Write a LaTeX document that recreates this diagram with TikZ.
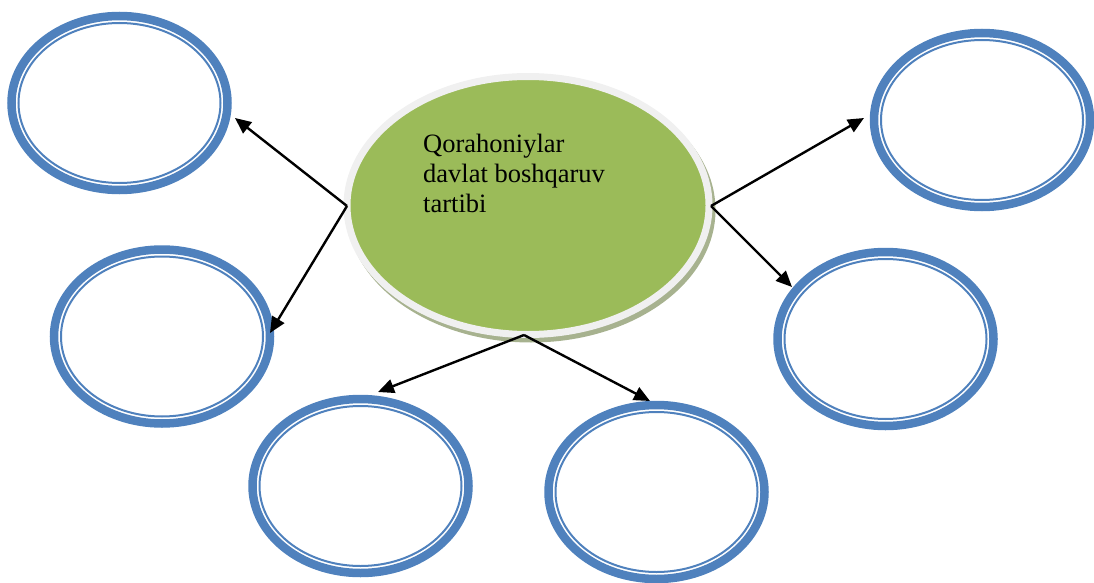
\documentclass[tikz,border=0pt]{standalone}
\usepackage{fontspec}
\setmainfont{Liberation Serif}
\usetikzlibrary{shapes.geometric,arrows.meta}
\definecolor{ringblue}{HTML}{4F81BD}
\definecolor{leafgreen}{HTML}{9BBB59}
\definecolor{rimgray}{HTML}{F0F0F0}
\definecolor{shadowgreen}{RGB}{167,178,143}
\tikzset{
  ring/.style={ellipse, draw=ringblue, line width=8.5pt, fill=white, inner sep=0pt,
    minimum width=216pt, minimum height=174pt},
  thinring/.style={draw=ringblue, line width=2pt},
  hub/.style={ellipse, draw=rimgray, fill=leafgreen, line width=7pt, inner sep=0pt,
    minimum width=362pt, minimum height=258pt},
  hubshadow/.style={ellipse, fill=shadowgreen, inner sep=0pt,
    minimum width=369pt, minimum height=265pt},
  link/.style={draw=black, line width=2.4pt, -{Triangle[length=16pt,width=14pt]}},
  label/.style={align=left, inner sep=0pt, font=\fontsize{26.5}{30}\selectfont}
}
\begin{document}
\begin{tikzpicture}[x=1pt,y=-1pt]
\useasboundingbox (0,0) rectangle (1094,583);
% satellite ellipses
\foreach \n/\cx/\cy in {e1/119.5/103, e2/162/336.5, e3/360.5/486, e4/656.5/492, e5/885.5/339, e6/982/120}{
  \node[ring] (\n) at (\cx,\cy) {};
  \draw[thinring] (\n.center) ellipse [x radius=101pt, y radius=80pt];
}
% central ellipse
\node[hubshadow] (hs) at (531,210) {};
\node[hub] (hub) at (528,205.5) {};
\node[label, anchor=base west] (txt) at (423,212) {Qorahoniylar\\davlat boshqaruv\\tartibi};
% junctions and arrow ends
\coordinate (jl) at (347,206);
\coordinate (jr) at (711,206);
\coordinate (jb) at (524,335);
\coordinate (t1) at (235,118);
\coordinate (t2) at (270,333);
\coordinate (t6) at (864,118);
\coordinate (t5) at (792,287);
\coordinate (t3) at (378,392);
\coordinate (t4) at (650,401);
\draw[link] (jl) -- (t1);
\draw[link] (jl) -- (t2);
\draw[link] (jr) -- (t6);
\draw[link] (jr) -- (t5);
\draw[link] (jb) -- (t3);
\draw[link] (jb) -- (t4);
\end{tikzpicture}
\end{document}
